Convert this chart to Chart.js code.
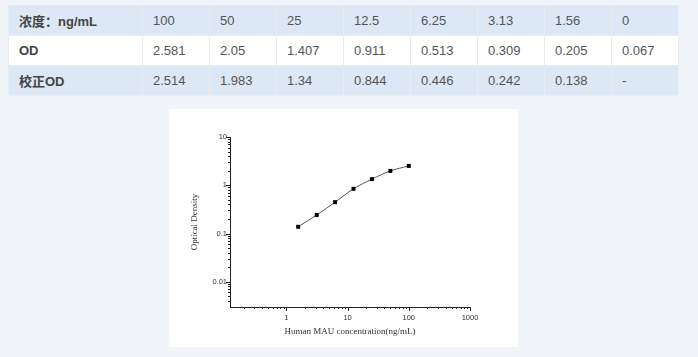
<!DOCTYPE html>
<html>
<head>
<meta charset="utf-8">
<script src="https://cdn.jsdelivr.net/npm/chart.js@4/dist/chart.umd.min.js"></script>
<style>
  html, body { margin: 0; padding: 0; }
  body { width: 698px; height: 357px; background: #f1f5f9; position: relative; overflow: hidden;
         font-family: "Liberation Sans", Arial, "Noto Sans CJK SC", sans-serif; }
  #tbl { position: absolute; left: 8px; top: 5px; border-collapse: collapse; table-layout: fixed; }
  #tbl td { height: 30px; padding: 0 0 0 10px; border: 1px solid #e8edf2; font-size: 13px; color: #555;
            white-space: nowrap; box-sizing: border-box; }
  #tbl td.h { font-weight: bold; color: #444; padding-left: 10px;
              font-family: "Liberation Sans", Arial, "Noto Sans CJK SC", sans-serif; }
  #tbl tr.blue td { background: #dce8f5; }
  #tbl tr.white td { background: #ffffff; }
  #box { position: absolute; left: 169px; top: 109px; width: 349px; height: 238px; background: #ffffff; }
  #box canvas { display: block; }
</style>
</head>
<body>
<table id="tbl"><tbody id="tbody"></tbody></table>
<div id="box"><canvas id="c" width="349" height="238"></canvas></div>
<script>
// ---- data ----
const rowLabels = ["浓度：ng/mL", "OD", "校正OD"];
const concentrationLabels = ["100", "50", "25", "12.5", "6.25", "3.13", "1.56", "0"];
const odValues = ["2.581", "2.05", "1.407", "0.911", "0.513", "0.309", "0.205", "0.067"];
const correctedOD = ["2.514", "1.983", "1.34", "0.844", "0.446", "0.242", "0.138", "-"];

const curveConcentrations = [1.56, 3.13, 6.25, 12.5, 25, 50, 100];
const curveOD = [0.138, 0.242, 0.446, 0.844, 1.34, 1.983, 2.514];

const xMajorTicks = [1, 10, 100, 1000];
const xMinorTicks = [0.2,0.3,0.4,0.5,0.6,0.7,0.8,0.9, 2,3,4,5,6,7,8,9, 20,30,40,50,60,70,80,90, 200,300,400,500,600,700,800,900];
const yMajorTicks = [0.01, 0.1, 1, 10];
const yMinorTicks = [0.004,0.005,0.006,0.007,0.008,0.009, 0.02,0.03,0.04,0.05,0.06,0.07,0.08,0.09, 0.2,0.3,0.4,0.5,0.6,0.7,0.8,0.9, 2,3,4,5,6,7,8,9];

const xTitle = "Human MAU concentration(ng/mL)";
const yTitle = "Optical Density";

// ---- table ----
const tbody = document.getElementById('tbody');
const rows = [concentrationLabels, odValues, correctedOD];
rows.forEach((vals, i) => {
  const tr = document.createElement('tr');
  tr.className = (i % 2 === 0) ? 'blue' : 'white';
  const th = document.createElement('td');
  th.className = 'h'; th.style.width = '134px'; th.textContent = rowLabels[i];
  tr.appendChild(th);
  vals.forEach(v => {
    const td = document.createElement('td');
    td.style.width = '67px'; td.textContent = v;
    tr.appendChild(td);
  });
  tbody.appendChild(tr);
});

// ---- chart ----
const tickPlugin = {
  id: 'logTickMarks',
  afterDraw(chart) {
    const ctx = chart.ctx, xs = chart.scales.x, ys = chart.scales.y;
    const axisY = Math.round(ys.getPixelForValue(ys.min)) ;
    const axisX = Math.round(xs.getPixelForValue(xs.min));
    ctx.save();
    ctx.strokeStyle = '#222';
    ctx.lineWidth = 1;
    ctx.beginPath();
    const xt = (v, len) => { const p = Math.round(xs.getPixelForValue(v)) + 0.5; ctx.moveTo(p, axisY); ctx.lineTo(p, axisY + len); };
    const yt = (v, len) => { const p = Math.round(ys.getPixelForValue(v)) + 0.5; ctx.moveTo(axisX, p); ctx.lineTo(axisX - len, p); };
    xMajorTicks.forEach(v => xt(v, 4));
    xMinorTicks.forEach(v => xt(v, 2));
    yMajorTicks.forEach(v => yt(v, 4));
    yMinorTicks.forEach(v => yt(v, 2));
    ctx.stroke();
    ctx.restore();
  }
};

const tickFont = { family: "'Liberation Sans', Arial, sans-serif", size: 7.5 };
const titleFont = { family: "'Liberation Serif', 'Times New Roman', serif", size: 9 };

new Chart(document.getElementById('c'), {
  type: 'scatter',
  data: {
    datasets: [{
      data: curveConcentrations.map((x, i) => ({ x: x, y: curveOD[i] })),
      showLine: true,
      borderColor: '#555',
      borderWidth: 1,
      cubicInterpolationMode: 'monotone',
      pointStyle: 'rect',
      pointRadius: 2.8,
      pointBackgroundColor: '#000',
      pointBorderColor: '#000',
      pointBorderWidth: 0
    }]
  },
  options: {
    responsive: false,
    animation: false,
    events: [],
    layout: { padding: { left: 0, right: 48, top: 28, bottom: 0 } },
    plugins: { legend: { display: false }, tooltip: { enabled: false } },
    scales: {
      x: {
        type: 'logarithmic', min: 0.12, max: 1000,
        afterBuildTicks: s => { s.ticks = xMajorTicks.map(v => ({ value: v })); },
        afterFit: s => { s.height = 40; },
        grid: { drawOnChartArea: false, drawTicks: false },
        border: { display: true, color: '#222', width: 1 },
        ticks: { font: tickFont, color: '#333', padding: 6, maxRotation: 0, autoSkip: false,
                 callback: v => String(v) },
        title: { display: true, text: xTitle, font: titleFont, color: '#333', padding: { top: 0, bottom: 10 } }
      },
      y: {
        type: 'logarithmic', min: 0.003, max: 10,
        afterBuildTicks: s => { s.ticks = yMajorTicks.map(v => ({ value: v })); },
        afterFit: s => { s.width = 61; },
        grid: { drawOnChartArea: false, drawTicks: false },
        border: { display: true, color: '#222', width: 1 },
        ticks: { font: tickFont, color: '#333', padding: 3, autoSkip: false,
                 callback: v => String(v) },
        title: { display: true, text: yTitle, font: titleFont, color: '#333', padding: { top: 20, bottom: 0 } }
      }
    }
  },
  plugins: [tickPlugin]
});
</script>
</body>
</html>
